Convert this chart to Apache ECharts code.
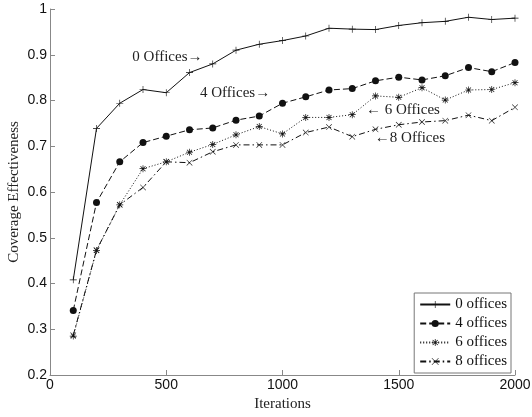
<!DOCTYPE html>
<html>
<head>
<meta charset="utf-8">
<script src="https://cdn.jsdelivr.net/npm/echarts@6/dist/echarts.min.js"></script>
<style>
  html, body { margin: 0; padding: 0; background: #fff; }
  #chart { width: 532px; height: 417px; }
</style>
</head>
<body>
<div id="chart"></div>
<script>
// Iteration counts sampled along the x axis
const iterations = [100, 200, 300, 400, 500, 600, 700, 800, 900, 1000,
                    1100, 1200, 1300, 1400, 1500, 1600, 1700, 1800, 1900, 2000];

// Coverage effectiveness for each number of offices
const offices0 = [0.408, 0.739, 0.794, 0.824, 0.817, 0.861, 0.880, 0.910, 0.923, 0.931,
                  0.941, 0.958, 0.956, 0.955, 0.964, 0.970, 0.973, 0.982, 0.977, 0.980];
const offices4 = [0.341, 0.577, 0.666, 0.708, 0.722, 0.736, 0.740, 0.757, 0.766, 0.794,
                  0.808, 0.823, 0.826, 0.843, 0.851, 0.845, 0.854, 0.872, 0.863, 0.883];
const offices6 = [0.285, 0.472, 0.572, 0.651, 0.666, 0.687, 0.704, 0.725, 0.743, 0.727,
                  0.763, 0.763, 0.769, 0.810, 0.807, 0.828, 0.801, 0.823, 0.824, 0.839];
const offices8 = [0.287, 0.473, 0.572, 0.610, 0.666, 0.664, 0.688, 0.703, 0.703, 0.703,
                  0.730, 0.742, 0.721, 0.737, 0.747, 0.753, 0.756, 0.768, 0.756, 0.785];

const seriesNames = ['0 offices', '4 offices', '6 offices', '8 offices'];

// In-plot annotations, placed in data coordinates
const annotations = [
  { text: '0 Offices\u2192', at: [505, 0.895] },
  { text: '4 Offices\u2192', at: [796, 0.816] },
  { text: '\u2190 6 Offices', at: [1518, 0.779] },
  { text: '\u21908 Offices', at: [1548, 0.718] }
];

const xTicks = { min: 0, max: 2000, interval: 500 };
const yTicks = { min: 0.2, max: 1, interval: 0.1 };

// Marker shapes drawn as thin filled strokes
const plusPath = 'path://M4.55,0H5.45V10H4.55ZM0,4.55H10V5.45H0Z';
const crossPath = 'path://M0,0.65L0.65,0L10,9.35L9.35,10ZM9.35,0L10,0.65L0.65,10L0,9.35Z';
const starPath = 'path://M4.5,0H5.5V10H4.5ZM0,4.5H10V5.5H0ZM1.1,1.8L1.8,1.1L8.9,8.2L8.2,8.9ZM8.2,1.1L8.9,1.8L1.8,8.9L1.1,8.2Z';

function pairs(values) {
  return iterations.map((x, i) => [x, values[i]]);
}

const serif = '"Liberation Serif", "Times New Roman", serif';
const sans = '"Liberation Sans", Arial, sans-serif';

function lineSeries(name, values, dash, symbol, size) {
  return {
    name: name,
    type: 'line',
    data: pairs(values),
    symbol: symbol,
    symbolSize: size,
    showAllSymbol: true,
    animation: false,
    lineStyle: { color: '#111', width: 1, type: dash },
    itemStyle: { color: '#111', borderWidth: 0 },
    emphasis: { disabled: true }
  };
}

const chart = echarts.init(document.getElementById('chart'));

chart.setOption({
  backgroundColor: '#fff',
  animation: false,
  grid: { left: 50, right: 17, top: 9, bottom: 42, containLabel: false, outerBoundsMode: 'none' },
  xAxis: {
    type: 'value',
    min: xTicks.min, max: xTicks.max, interval: xTicks.interval,
    name: 'Iterations',
    nameLocation: 'middle',
    nameGap: 22,
    nameMoveOverlap: false,
    nameTextStyle: { fontFamily: serif, fontSize: 15, color: '#222' },
    axisLine: { show: true, lineStyle: { color: '#888', width: 1 } },
    axisTick: { show: true, inside: true, length: 5, lineStyle: { color: '#888' } },
    axisLabel: {
      fontFamily: sans, fontSize: 14, color: '#111', margin: 3,
      formatter: v => String(v)
    },
    splitLine: { show: false }
  },
  yAxis: {
    type: 'value',
    min: yTicks.min, max: yTicks.max, interval: yTicks.interval,
    name: 'Coverage Effectiveness',
    nameLocation: 'middle',
    nameGap: 28,
    nameMoveOverlap: false,
    nameTextStyle: { fontFamily: serif, fontSize: 15, color: '#222' },
    axisLine: { show: true, lineStyle: { color: '#888', width: 1 } },
    axisTick: { show: true, inside: true, length: 5, lineStyle: { color: '#888' } },
    axisLabel: {
      fontFamily: sans, fontSize: 14, color: '#111', margin: 3,
      formatter: v => String(Math.round(v * 10) / 10)
    },
    splitLine: { show: false }
  },
  legend: {
    data: seriesNames,
    orient: 'vertical',
    right: 21,
    bottom: 44,
    padding: [4, 4, 4, 5],
    itemWidth: 30,
    itemHeight: 9,
    itemGap: 4,
    backgroundColor: '#fff',
    borderColor: '#777',
    borderWidth: 1,
    borderRadius: 0,
    selectedMode: false,
    textStyle: { fontFamily: serif, fontSize: 15, color: '#111', lineHeight: 15 }
  },
  series: [
    lineSeries(seriesNames[0], offices0, 'solid', plusPath, 7),
    lineSeries(seriesNames[1], offices4, [6, 3], 'circle', 7),
    lineSeries(seriesNames[2], offices6, [1, 2], starPath, 7),
    lineSeries(seriesNames[3], offices8, [6, 3, 1.5, 3], crossPath, 6)
  ]
});

// Place the annotation texts at their data positions
chart.setOption({
  graphic: annotations.map(a => {
    const p = chart.convertToPixel({ gridIndex: 0 }, a.at);
    return {
      type: 'text',
      x: p[0],
      y: p[1],
      style: {
        text: a.text,
        fontFamily: serif,
        fontSize: 15,
        fill: '#222',
        align: 'center',
        verticalAlign: 'middle'
      }
    };
  })
});
</script>
</body>
</html>
